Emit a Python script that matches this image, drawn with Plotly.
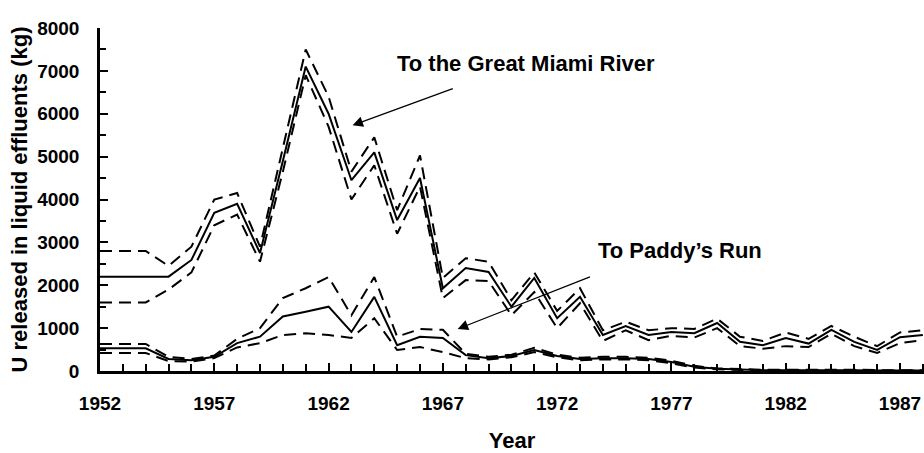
import plotly.graph_objects as go

years = list(range(1952, 1989))

# To the Great Miami River (kg)
gmr_mid = [2200, 2200, 2200, 2200, 2590, 3690, 3900, 2750, 4900, 7100, 6000, 4450, 5100, 3520, 4500,
           1930, 2400, 2310, 1500, 2170, 1230, 1730, 840, 1050, 840, 910, 880, 1120, 680, 600,
           770, 640, 960, 680, 490, 790, 840]
gmr_hi = [2800, 2800, 2800, 2450, 2900, 4000, 4150, 2900, 5200, 7500, 6400, 4650, 5450, 3750, 5030,
          2170, 2630, 2550, 1650, 2300, 1400, 1930, 950, 1150, 950, 1000, 980, 1220, 800, 700,
          900, 750, 1050, 800, 580, 900, 950]
gmr_lo = [1600, 1600, 1600, 1900, 2300, 3400, 3650, 2550, 4650, 6900, 5700, 4000, 4800, 3200, 4300,
          1700, 2120, 2100, 1300, 1840, 1000, 1580, 700, 950, 720, 820, 780, 1000, 580, 520,
          580, 560, 870, 580, 420, 650, 720]

# To Paddy's Run (kg)
pr_mid = [530, 530, 530, 280, 250, 330, 650, 800, 1270, 1380, 1500, 910, 1730, 600, 800,
          770, 370, 300, 350, 490, 350, 280, 300, 300, 280, 210, 100, 50, 30, 20,
          20, 20, 30, 20, 10, 10, 10]
pr_hi = [630, 630, 630, 330, 280, 360, 750, 1000, 1700, 1930, 2190, 1300, 2190, 800, 980,
         960, 400, 330, 380, 540, 380, 310, 330, 330, 310, 240, 120, 60, 40, 30,
         30, 30, 40, 30, 20, 20, 20]
pr_lo = [420, 420, 420, 230, 220, 300, 550, 650, 840, 880, 840, 770, 1230, 490, 560,
         440, 300, 270, 320, 440, 320, 250, 270, 270, 250, 180, 80, 40, 20, 10,
         10, 10, 20, 10, 5, 5, 5]

FONT = "Liberation Sans, Arial, sans-serif"

fig = go.Figure()
for mid, hi, lo in [(gmr_mid, gmr_hi, gmr_lo), (pr_mid, pr_hi, pr_lo)]:
    fig.add_trace(go.Scatter(x=years, y=hi, mode="lines",
                             line=dict(color="black", width=2, dash="12px,7px")))
    fig.add_trace(go.Scatter(x=years, y=lo, mode="lines",
                             line=dict(color="black", width=2, dash="12px,7px")))
    fig.add_trace(go.Scatter(x=years, y=mid, mode="lines",
                             line=dict(color="black", width=2)))

# arrows pointing at the two groups of curves
fig.add_annotation(x=1963.05, y=5730, ax=1967.5, ay=6600, axref="x", ayref="y",
                   xref="x", yref="y", text="", showarrow=True,
                   arrowhead=2, arrowsize=1.6, arrowwidth=1.3, arrowcolor="black")
fig.add_annotation(x=1967.65, y=980, ax=1973.5, ay=2210, axref="x", ayref="y",
                   xref="x", yref="y", text="", showarrow=True,
                   arrowhead=2, arrowsize=1.6, arrowwidth=1.3, arrowcolor="black")

fig.add_annotation(x=1964.9, y=7180, xref="x", yref="y", xanchor="left", text="To the Great Miami River",
                   showarrow=False, font=dict(family=FONT, size=22, color="black", weight="bold"))
fig.add_annotation(x=1973.7, y=2820, xref="x", yref="y", xanchor="left", text="To Paddy\u2019s Run",
                   showarrow=False, font=dict(family=FONT, size=22, color="black", weight="bold"))

fig.update_layout(
    width=924, height=453,
    margin=dict(l=100, r=0, t=28, b=82),
    paper_bgcolor="white", plot_bgcolor="white",
    showlegend=False,
    font=dict(family=FONT, size=19, color="black", weight="bold"),
    xaxis=dict(
        range=[1952, 1988.05], tick0=1952, dtick=5, ticks="inside", ticklen=8,
        tickwidth=2, tickcolor="black", showline=True, linecolor="black", linewidth=2.5,
        showgrid=False, zeroline=False, ticklabelstandoff=13, automargin=False,
        tickfont=dict(family=FONT, size=19, weight="bold"),
        minor=dict(dtick=1, tick0=1952, ticks="inside", ticklen=7, tickwidth=1.5, tickcolor="black"),
        title=dict(text="Year", font=dict(family=FONT, size=22, weight="bold"), standoff=27),
    ),
    yaxis=dict(
        range=[0, 8000], dtick=1000, ticks="inside", ticklen=8, tickwidth=2,
        tickcolor="black", showline=True, linecolor="black", linewidth=2.5,
        showgrid=False, zeroline=False, ticklabelstandoff=14, automargin=False,
        tickfont=dict(family=FONT, size=19, weight="bold"),
        minor=dict(dtick=500, ticks="inside", ticklen=6, tickwidth=1.5, tickcolor="black"),
        title=dict(text="U released in liquid effluents (kg)",
                   font=dict(family=FONT, size=22, weight="bold"), standoff=4),
    ),
)

# drop the page's default body margin so the figure fills the window exactly
fig.write_html("out.html", config={"displayModeBar": False},
               post_script="document.body.style.margin='0';")
